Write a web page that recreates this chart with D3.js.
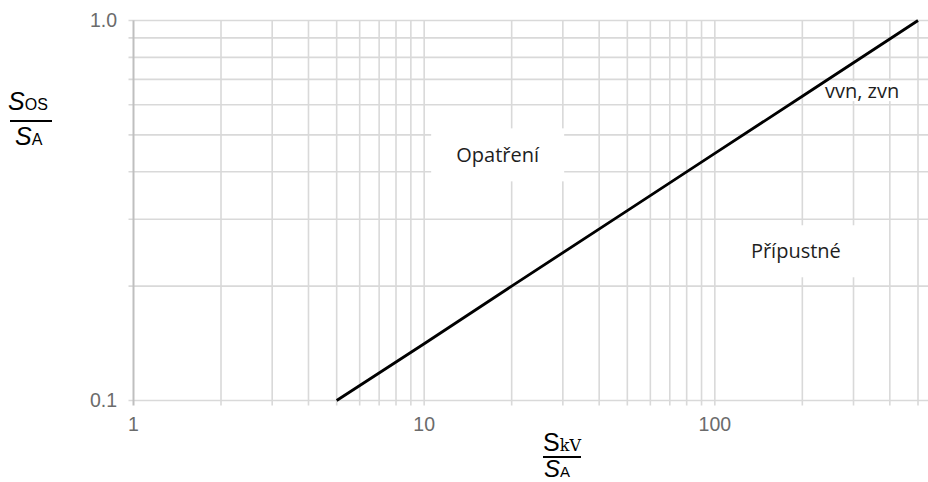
<!DOCTYPE html>
<html>
<head>
<meta charset="utf-8">
<script src="https://cdn.jsdelivr.net/npm/d3@7"></script>
<style>
	body{ margin:0; background:#fff; }
	svg{ display:block; }
	.tick-label{ font-family:"Liberation Sans", Arial, sans-serif; font-size:19.5px; fill:#6b6b6b; }
	.area-label{ font-family:"Open Sans", sans-serif; font-size:20px; fill:#1e1e1e; }
	.axis-title{ font-family:"Liberation Sans", Arial, sans-serif; fill:#000; }
</style>
</head>
<body>
<svg id="chart" width="928" height="482"></svg>
<script>
//values
var xTicks = [1, 10, 100],
	yTicks = [0.1, 1.0],
	xGrid = [2,3,4,5,6,7,8,9,10,20,30,40,50,60,70,80,90,100,200,300,400,500],
	yGrid = [0.1,0.2,0.3,0.4,0.5,0.6,0.7,0.8,0.9,1.0];

// limit line (S_OS/S_A over S_kV/S_A)
var limitX = [5, 10, 20, 50, 100, 200, 500],
	limitY = [0.1, 0.141, 0.2, 0.316, 0.447, 0.632, 1.0];

var areaNames = ["Opatření", "Přípustné", "vvn, zvn"],
	areaX = [17.9, 190, 321],
	areaY = [0.443, 0.247, 0.652];

var margin = {left:133.5, right:918, top:20.5, bottom:400.5};

var svg = d3.select("#chart");

var x = d3.scaleLog().domain([1, 500]).range([margin.left, margin.right]),
	y = d3.scaleLog().domain([0.1, 1]).range([margin.bottom, margin.top]);

var gridColor = "#d9d9d9",
	axisColor = "#bfbfbf";

// grid
svg.append("g").selectAll("line").data(yGrid).enter()
	.append("line")
	.attr("x1", margin.left - 5)
	.attr("x2", 928)
	.attr("y1", function(d){ return y(d); })
	.attr("y2", function(d){ return y(d); })
	.attr("stroke", gridColor)
	.attr("stroke-width", 1.6);

svg.append("g").selectAll("line").data(xGrid).enter()
	.append("line")
	.attr("x1", function(d){ return x(d); })
	.attr("x2", function(d){ return x(d); })
	.attr("y1", margin.top)
	.attr("y2", margin.bottom + 5)
	.attr("stroke", gridColor)
	.attr("stroke-width", 1.6);

// left axis line
svg.append("line")
	.attr("x1", x(1)).attr("x2", x(1))
	.attr("y1", margin.top).attr("y2", margin.bottom + 5)
	.attr("stroke", axisColor)
	.attr("stroke-width", 2);

// white boxes behind labels
var boxW = [133, 133, 82],
	boxH = [53, 52, 20];
svg.append("g").selectAll("rect").data(areaNames).enter()
	.append("rect")
	.attr("x", function(d, i){ return x(areaX[i]) - boxW[i]/2; })
	.attr("y", function(d, i){ return y(areaY[i]) - boxH[i]/2; })
	.attr("width", function(d, i){ return boxW[i]; })
	.attr("height", function(d, i){ return boxH[i]; })
	.attr("fill", "#fff");

// limit line
var line = d3.line()
	.x(function(d, i){ return x(limitX[i]); })
	.y(function(d, i){ return y(limitY[i]); });

svg.append("path")
	.datum(limitX)
	.attr("d", line)
	.attr("fill", "none")
	.attr("stroke", "#000")
	.attr("stroke-width", 2.8);

// area labels
svg.append("g").selectAll("text").data(areaNames).enter()
	.append("text")
	.attr("class", "area-label")
	.attr("x", function(d, i){ return x(areaX[i]); })
	.attr("y", function(d, i){ return y(areaY[i]); })
	.attr("dy", "0.35em")
	.attr("text-anchor", "middle")
	.text(function(d){ return d; });

// tick labels
svg.append("g").selectAll("text").data(xTicks).enter()
	.append("text")
	.attr("class", "tick-label")
	.attr("x", function(d){ return x(d); })
	.attr("y", margin.bottom + 30)
	.attr("text-anchor", "middle")
	.text(function(d){ return d; });

svg.append("g").selectAll("text").data(yTicks).enter()
	.append("text")
	.attr("class", "tick-label")
	.attr("x", 117)
	.attr("y", function(d){ return y(d); })
	.attr("dy", "0.35em")
	.attr("text-anchor", "end")
	.text(function(d){ return d.toFixed(1); });

// y axis title: S_OS / S_A
var yTitle = svg.append("g").attr("class", "axis-title");
var t1 = yTitle.append("text").attr("x", 8).attr("y", 110);
t1.append("tspan").attr("font-style", "italic").attr("font-size", "25px").text("S");
t1.append("tspan").attr("font-size", "16px").text("OS");
yTitle.append("line")
	.attr("x1", 10).attr("x2", 52)
	.attr("y1", 121).attr("y2", 121)
	.attr("stroke", "#000").attr("stroke-width", 2);
var t2 = yTitle.append("text").attr("x", 15).attr("y", 145);
t2.append("tspan").attr("font-style", "italic").attr("font-size", "25px").text("S");
t2.append("tspan").attr("font-size", "16px").text("A");

// x axis title: S_kV / S_A
var xTitle = svg.append("g").attr("class", "axis-title");
var t3 = xTitle.append("text").attr("x", 543).attr("y", 451);
t3.append("tspan").attr("font-size", "25px").text("S");
t3.append("tspan").attr("font-size", "16px").attr("font-family", "'DejaVu Serif', 'Liberation Serif', serif").text("kV");
xTitle.append("line")
	.attr("x1", 543).attr("x2", 581)
	.attr("y1", 457).attr("y2", 457)
	.attr("stroke", "#000").attr("stroke-width", 2);
var t4 = xTitle.append("text").attr("x", 544).attr("y", 477);
t4.append("tspan").attr("font-style", "italic").attr("font-size", "24px").text("S");
t4.append("tspan").attr("font-size", "15px").text("A");
</script>
</body>
</html>
